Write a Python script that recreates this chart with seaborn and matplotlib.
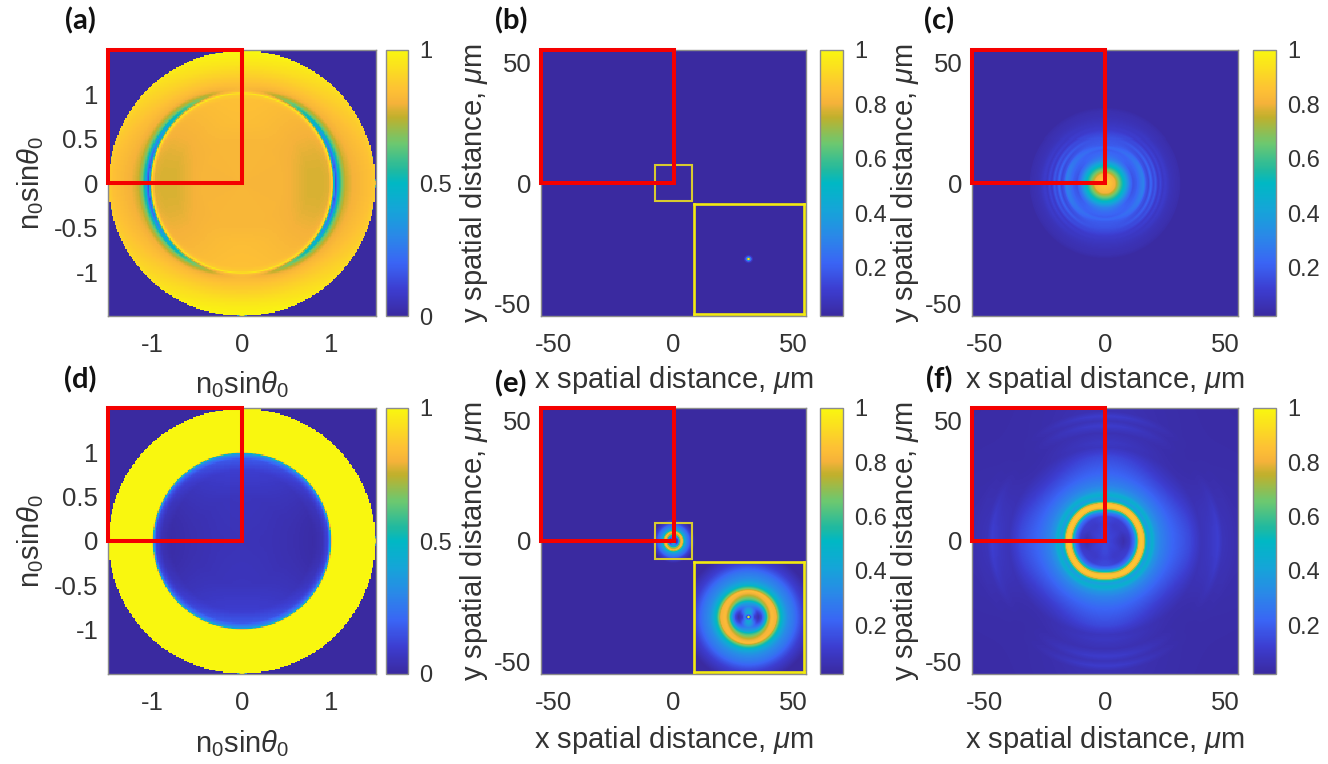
import numpy as np
import pandas as pd
import matplotlib
matplotlib.use("Agg")
import matplotlib.pyplot as plt
from matplotlib.colors import LinearSegmentedColormap
from matplotlib.patches import Rectangle
import seaborn as sns

# ---- colour scale
cmap_levels = [0, .1, .2, .3, .4, .5, .55, .65, .75, .8, .85, 1]
cmap_colors = ["#3a2aa0", "#3c3dd0", "#3a65f5", "#2a88e8", "#15a5d8", "#00b8c4",
               "#20b9a0", "#6cc870", "#c0b02c", "#f5b23a", "#fdc035", "#f9f70f"]

# ---- radial profiles: along the x axis (side), y axis (top), diagonal
a_side_r = [0, .45, .6, .75, .9, .98, 1.0, 1.015, 1.03, 1.05, 1.07, 1.09, 1.13, 1.17, 1.25, 1.45, 1.5, 1.501]
a_side_v = [.81, .81, .79, .77, .77, .78, .85, .97, .6, .14, .25, .5, .68, .76, .8, .85, .88, 0]
a_top_r = [0, .5, .7, .95, 1.0, 1.015, 1.03, 1.06, 1.2, 1.35, 1.5, 1.501]
a_top_v = [.82, .82, .84, .85, .88, .96, .85, .82, .88, .95, 1.0, 0]

d_side_r = [0, .3, .6, .8, .9, .97, .995, 1.0, 1.01, 1.5, 1.501]
d_side_v = [.05, .045, .03, .015, .04, .13, .4, .7, 1, 1, 0]
d_top_r = [0, .5, .8, .93, .98, .995, 1.01, 1.5, 1.501]
d_top_v = [.05, .06, .1, .17, .32, .5, 1, 1, 0]

b_side_r = [0, .15, .3, .5, .7]
b_side_v = [1, .9, .3, .1, .02]
b_top_r = [0, .15, .3, .5, .7]
b_top_v = [1, .9, .3, .1, .02]

c_side_r = [0, 2, 4, 5, 7, 8.5, 10, 11.5, 13, 15, 16, 17, 18, 19, 20, 21, 22, 23, 24, 25, 27, 29, 31, 31.5]
c_side_v = [.88, .85, .8, .72, .55, .42, .28, .17, .2, .28, .3, .18, .14, .23, .14, .19, .1, .14, .09, .11, .07, .055, .045, .025]
c_top_r = [0, 2, 4, 5, 7, 8.5, 10, 12, 14, 15, 16, 18, 20, 22, 24, 27, 30, 31.5]
c_top_v = [.88, .85, .8, .72, .55, .42, .3, .24, .2, .23, .19, .18, .15, .11, .09, .065, .05, .025]

e_side_r = [0, .15, .3, .5, .8, 1.35, 1.8, 2.2, 2.7, 3.2, 3.8, 4.3, 4.8, 5.4, 6.2, 7, 7.5, 9]
e_side_v = [1, .85, .15, .3, .12, .05, .15, .35, .72, .84, .8, .55, .42, .32, .26, .17, .12, .02]
e_top_r = [0, .15, .3, .6, 1, 1.5, 2, 2.4, 3, 3.6, 4, 4.5, 5, 5.4, 6.2, 7, 7.5, 9]
e_top_v = [1, .85, .15, .45, .4, .3, .4, .6, .75, .85, .65, .45, .37, .32, .26, .17, .12, .02]

f_side_r = [0, 3, 7.5, 10, 12, 13.2, 13.9, 15, 16.1, 16.8, 18, 19.5, 21, 23, 28, 35, 40, 44, 47, 49, 52, 55, 80]
f_side_v = [.15, .12, .05, .1, .25, .55, .82, .88, .82, .55, .38, .47, .36, .3, .22, .15, .07, .09, .12, .07, .06, .05, .03]
f_top_r = [0, 3, 7, 10, 11.5, 12.7, 13.4, 14.5, 15.6, 16.3, 17.5, 19, 21, 23, 28, 35, 39, 41, 45, 48, 50, 52, 54, 80]
f_top_v = [.15, .15, .13, .15, .28, .55, .82, .88, .82, .55, .38, .47, .36, .3, .22, .15, .08, .09, .06, .11, .07, .11, .06, .03]
f_diag_r = [0, 3, 7, 10, 12, 13.2, 13.9, 15, 16.1, 16.8, 18, 19.5, 21, 23, 28, 35, 40, 45, 80]
f_diag_v = [.15, .13, .1, .12, .25, .55, .82, .88, .82, .55, .38, .47, .36, .3, .2, .1, .05, .04, .03]

# ---- axis ticks and labels
na_ticks = [-1, 0, 1]
na_yticks = [-1, -.5, 0, .5, 1]
na_ylabels = ["-1", "-0.5", "0", "0.5", "1"]
um_ticks = [-50, 0, 50]
cbar_ticks_na = [0, .5, 1]
cbar_labels_na = ["0", "0.5", "1"]
cbar_ticks_um = [.2, .4, .6, .8, 1]
cbar_labels_um = ["0.2", "0.4", "0.6", "0.8", "1"]
NA_LABEL = r"n$_0$sin$\mathit{\theta}_0$"
X_LABEL = r"x spatial distance, $\mathit{\mu}$m"
Y_LABEL = r"y spatial distance, $\mathit{\mu}$m"

W, H = 1328, 764
NA_LIM = 1.5
UM_LIM = 55.2
INSET_LIM = 7.5

sns.set_theme(style="white")
plt.rcParams["font.family"] = ["Liberation Sans", "DejaVu Sans"]
plt.rcParams["mathtext.fontset"] = "custom"
plt.rcParams["mathtext.rm"] = "Liberation Sans"
plt.rcParams["mathtext.it"] = "Liberation Sans:italic"
plt.rcParams["mathtext.bf"] = "Liberation Sans:bold"
TXT = "#333333"
EDGE = "#8c8c8c"
TICK_FS = 18.5
CBAR_FS = 17
LABEL_FS = 21

parula = LinearSegmentedColormap.from_list("parula_like", list(zip(cmap_levels, cmap_colors)), N=256)
fig = plt.figure(figsize=(W / 100, H / 100), dpi=100)


def rect(x0, y0, x1, y1):
    return [x0 / W, 1 - y1 / H, (x1 - x0) / W, (y1 - y0) / H]


def field(lim, n, side_r, side_v, top_r, top_v, diag_r=None, diag_v=None):
    c = np.linspace(-lim, lim, n)
    X, Y = np.meshgrid(c, c[::-1])
    R = np.hypot(X, Y)
    w = np.divide(X ** 2, R ** 2, out=np.full_like(R, .5), where=R > 0)
    Z = w * np.interp(R, side_r, side_v) + (1 - w) * np.interp(R, top_r, top_v)
    if diag_r is not None:
        d = (2 * w - 1) ** 2
        Z = d * Z + (1 - d) * np.interp(R, diag_r, diag_v)
    return pd.DataFrame(Z, index=c[::-1], columns=c)


def style_axes(ax, color=EDGE, lw=1.0):
    for s in ax.spines.values():
        s.set_visible(True)
        s.set_color(color)
        s.set_linewidth(lw)


def panel(box, cbox, data, lim, vmin, xt, yt, ylabs, cticks, clabs, xlabel, ylabel, lab_xy, lab_text, xlabel_y, ylabel_x):
    ax = fig.add_axes(rect(*box))
    cax = fig.add_axes(rect(*cbox))
    n = data.shape[0]
    sns.heatmap(data, ax=ax, cbar_ax=cax, cmap=parula, vmin=vmin, vmax=1,
                xticklabels=False, yticklabels=False, square=False)
    xc = lambda v: (np.asarray(v, float) + lim) / (2 * lim) * n
    yc = lambda v: (lim - np.asarray(v, float)) / (2 * lim) * n
    ax.set_xticks(xc(xt))
    ax.set_xticklabels([f"{t:g}" for t in xt], fontsize=TICK_FS, color=TXT)
    ax.set_yticks(yc(yt))
    ax.set_yticklabels(ylabs, fontsize=TICK_FS, color=TXT)
    ax.tick_params(axis="both", which="major", direction="in", length=3, width=.6,
                   color="#555555", bottom=True, left=True, top=True, right=True, pad=7)
    ax.tick_params(axis="x", pad=12)
    style_axes(ax)
    ax.set_xlabel(xlabel, fontsize=LABEL_FS, color=TXT)
    ax.set_ylabel(ylabel, fontsize=LABEL_FS, color=TXT)
    ax.xaxis.set_label_coords(.5, 1 - (xlabel_y - box[1]) / (box[3] - box[1]))
    ax.yaxis.set_label_coords((ylabel_x - box[0]) / (box[2] - box[0]), .5)
    # red quadrant marker
    ax.add_patch(Rectangle((xc(-lim), yc(lim)), xc(0) - xc(-lim), yc(0) - yc(lim), fill=False,
                           ec="#f40000", lw=2.9, clip_on=False, zorder=5, joinstyle="miter"))
    cbar = ax.collections[0].colorbar
    cbar.set_ticks(cticks)
    cbar.set_ticklabels(clabs, fontsize=CBAR_FS, color=TXT)
    cbar.ax.tick_params(direction="in", length=2.5, width=.6, color="#555555", pad=8, right=True)
    cbar.outline.set_visible(True)
    cbar.outline.set_edgecolor(EDGE)
    cbar.outline.set_linewidth(1.0)
    fig.text(lab_xy[0] / W, 1 - lab_xy[1] / H, lab_text, fontsize=21, fontweight="bold",
             family="Lato", color="#111111", ha="center", va="center")
    return ax, xc, yc


def zoom_inset(box, ax, xc, yc, data):
    ax.add_patch(Rectangle((xc(-INSET_LIM), yc(INSET_LIM)), xc(INSET_LIM) - xc(-INSET_LIM),
                           yc(-INSET_LIM) - yc(INSET_LIM), fill=False, ec="#d8ca30", lw=1.5, zorder=4))
    ins = fig.add_axes(rect(*box))
    sns.heatmap(data, ax=ins, cbar=False, cmap=parula, vmin=.02, vmax=1, xticklabels=False, yticklabels=False)
    ins.set_xlabel("")
    ins.set_ylabel("")
    style_axes(ins, "#f2ea10", 1.9)


COL1 = (108, 376)
COL2 = (541, 806)
COL3 = (972, 1238)
ROW1 = (50, 316.5)
ROW2 = (408, 674)

# (a)
panel((COL1[0], ROW1[0], COL1[1], ROW1[1]), (386, ROW1[0], 408, ROW1[1]),
      field(NA_LIM, 201, a_side_r, a_side_v, a_top_r, a_top_v), NA_LIM, 0,
      na_ticks, na_yticks, na_ylabels, cbar_ticks_na, cbar_labels_na, NA_LABEL, NA_LABEL,
      (80, 21), "(a)", 369, 46)
# (d)
panel((COL1[0], ROW2[0], COL1[1], ROW2[1]), (386, ROW2[0], 408, ROW2[1]),
      field(NA_LIM, 201, d_side_r, d_side_v, d_top_r, d_top_v), NA_LIM, 0,
      na_ticks, na_yticks, na_ylabels, cbar_ticks_na, cbar_labels_na, NA_LABEL, NA_LABEL,
      (80, 380), "(d)", 728, 46)
# (b)
ax_b, xb, yb = panel((COL2[0], ROW1[0], COL2[1], ROW1[1]), (820, ROW1[0], 843, ROW1[1]),
                     field(UM_LIM, 265, b_side_r, b_side_v, b_top_r, b_top_v), UM_LIM, .02,
                     um_ticks, um_ticks, [f"{t:g}" for t in um_ticks], cbar_ticks_um, cbar_labels_um,
                     X_LABEL, Y_LABEL, (511, 21), "(b)", 364, 490)
zoom_inset((693.5, 204, 804, 314), ax_b, xb, yb,
           field(INSET_LIM, 111, b_side_r, b_side_v, b_top_r, b_top_v))
# (e)
ax_e, xe, ye = panel((COL2[0], ROW2[0], COL2[1], ROW2[1]), (820, ROW2[0], 843, ROW2[1]),
                     field(UM_LIM, 265, e_side_r, e_side_v, e_top_r, e_top_v), UM_LIM, .02,
                     um_ticks, um_ticks, [f"{t:g}" for t in um_ticks], cbar_ticks_um, cbar_labels_um,
                     X_LABEL, Y_LABEL, (511, 384), "(e)", 724, 490)
zoom_inset((693.5, 562, 804, 672), ax_e, xe, ye,
           field(INSET_LIM, 111, e_side_r, e_side_v, e_top_r, e_top_v))
# (c)
panel((COL3[0], ROW1[0], COL3[1], ROW1[1]), (1253, ROW1[0], 1276, ROW1[1]),
      field(UM_LIM, 265, c_side_r, c_side_v, c_top_r, c_top_v), UM_LIM, .02,
      um_ticks, um_ticks, [f"{t:g}" for t in um_ticks], cbar_ticks_um, cbar_labels_um,
      X_LABEL, Y_LABEL, (939, 21), "(c)", 364, 921)
# (f)
panel((COL3[0], ROW2[0], COL3[1], ROW2[1]), (1253, ROW2[0], 1276, ROW2[1]),
      field(UM_LIM, 265, f_side_r, f_side_v, f_top_r, f_top_v, f_diag_r, f_diag_v), UM_LIM, .02,
      um_ticks, um_ticks, [f"{t:g}" for t in um_ticks], cbar_ticks_um, cbar_labels_um,
      X_LABEL, Y_LABEL, (939, 380), "(f)", 724, 921)

fig.savefig("out.png", dpi=100, facecolor="white")
